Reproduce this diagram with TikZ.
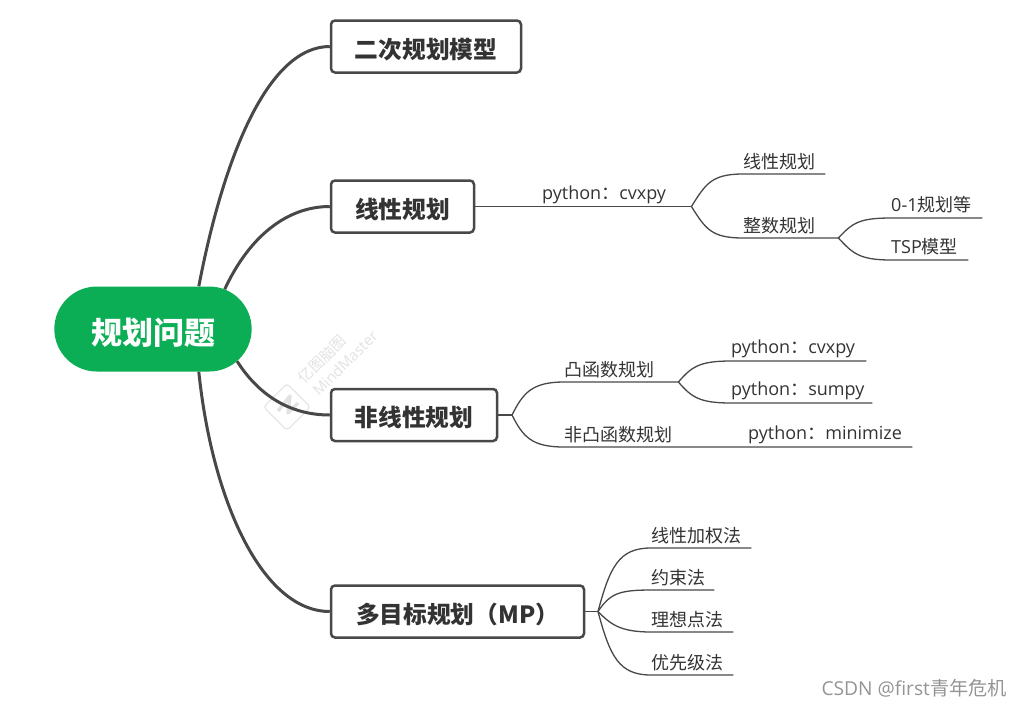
\documentclass[tikz,border=0pt]{standalone}
\usepackage{fontspec}
\setmainfont{Open Sans}
\newfontfamily\cjk{Noto Sans CJK SC}
\usetikzlibrary{shapes.misc}
\definecolor{rootgreen}{HTML}{0BAE55}
\definecolor{inkgray}{HTML}{484848}
\definecolor{textgray}{HTML}{333333}
\definecolor{markgray}{HTML}{E2E2E2}

\begin{document}
\begin{tikzpicture}[
        x=1pt, y=-1pt,
        root/.style={rounded rectangle, fill=rootgreen, text=white, minimum width=204pt, minimum height=85pt, text height=35pt, text depth=3.7pt, font=\cjk\bfseries\fontsize{31}{34}\selectfont},
        topic/.style={draw=inkgray, line width=2.5pt, rounded corners=4pt, fill=white, text=textgray, minimum height=52pt, inner sep=0pt, text height=26pt, text depth=2.6pt, font=\cjk\bfseries\fontsize{23.7}{27}\selectfont},
        leaf/.style={anchor=south west, inner sep=0pt, minimum height=24pt, text width=#1, align=left, text=textgray, font=\fontsize{18}{20}\selectfont},
        mainline/.style={draw=inkgray, line width=3pt},
        subline/.style={draw=inkgray, line width=1.3pt, line join=round},
        wmtext/.style={text=markgray, rotate=45}
        ]
        \useasboundingbox (0,0) rectangle (1022,707);
        % watermark
        \node[wmtext, font=\cjk\fontsize{15}{17}\selectfont] (wmzh) at (322,359) {亿图脑图};
        \node[wmtext, font=\fontsize{15}{17}\selectfont] (wmen) at (345,363) {MindMaster};
        \node[draw=markgray, line width=1pt, rotate=45, rounded corners=3pt, minimum size=33pt, inner sep=0pt] (wmlogo) at (287,407) {};
        \draw[draw=markgray, line width=3.5pt, line join=round] (278,411) -- (290,396) -- (288,413) -- (298,403);

        \node[root] (root) at (153,329) {规划问题};
        \node[topic, minimum width=190pt] (quad) at (426,46.5) {二次规划模型};
        \node[topic, minimum width=143pt] (linear) at (402.5,206.5) {线性规划};
        \node[topic, minimum width=166pt] (nonlin) at (414,415) {非线性规划};
        \node[topic, minimum width=253pt] (multi) at (457.5,611.5) {多目标规划（MP）};

        \draw[mainline] (root.43) .. controls (225,150) and (270,46.5) .. (quad.west);
        \draw[mainline] (root.29) .. controls (250,235) and (288,206.5) .. (linear.west);
        \draw[mainline] (root.-21) .. controls (262,400) and (295,415) .. (nonlin.west);
        \draw[mainline] (root.-43) .. controls (212,500) and (262,611.5) .. (multi.west);

        % linear branch
        \node[leaf=149pt, minimum height=22pt] (cvxpy) at (542,206.5) {python{\cjk：}cvxpy};
        \node[leaf=82pt] (lp) at (743,174) {\cjk 线性规划};
        \node[leaf=95pt] (ip) at (743,238) {\cjk 整数规划};
        \node[leaf=91pt, minimum height=26pt] (zeroone) at (891,218) {0-1{\cjk 规划等}};
        \node[leaf=77pt, minimum height=26pt] (tsp) at (891,260) {TSP{\cjk 模型}};
        \draw[subline] (linear.east) -- (cvxpy.south west);
        \draw[subline] (cvxpy.south west) -- (cvxpy.south east);

        % nonlinear branch
        \coordinate (nfork) at (512,415);
        \node[leaf=114pt] (convex) at (564,382) {\cjk 凸函数规划};
        \node[leaf=184pt] (nonconvex) at (564,447) {\cjk 非凸函数规划};
        \node[leaf=135pt] (pycvx) at (731,361) {python{\cjk：}cvxpy};
        \node[leaf=141pt] (pysum) at (731,403) {python{\cjk：}sumpy};
        \node[leaf=164pt] (pymin) at (748,447) {python{\cjk：}minimize};
        \draw[subline] (nonlin.east) -- (nfork);
        \draw[subline] (nfork) .. controls +(11,22) and +(-32,0) .. (nonconvex.south west) -- (pymin.south east);

        % multi objective branch
        \coordinate (mfork) at (598,611.5);
        \node[leaf=100pt] (weight) at (651,548) {\cjk 线性加权法};
        \node[leaf=63pt] (limit) at (651,590) {\cjk 约束法};
        \node[leaf=82pt] (ideal) at (651,632) {\cjk 理想点法};
        \node[leaf=82pt] (prior) at (651,675) {\cjk 优先级法};
        \draw[subline] (multi.east) -- (mfork);

        \foreach \from/\to/\ox/\oy in {cvxpy.south east/lp/14/-22, cvxpy.south east/ip/14/22,
                ip.south east/zeroone/14/-15, ip.south east/tsp/14/15,
                nfork/convex/11/-22,
                convex.south east/pycvx/13/-15, convex.south east/pysum/13/15,
                mfork/weight/12/-45, mfork/limit/12/-18, mfork/ideal/12/12, mfork/prior/12/45} {
            \draw[subline] (\from) .. controls +(\ox,\oy) and +(-32,0) .. (\to.south west) -- (\to.south east);
        }

        \node[anchor=east, inner sep=0pt, text=black!42, font=\fontsize{19.2}{22}\selectfont] (csdn) at (1007,688) {CSDN @first{\cjk 青年危机}};
    \end{tikzpicture}
\end{document}
